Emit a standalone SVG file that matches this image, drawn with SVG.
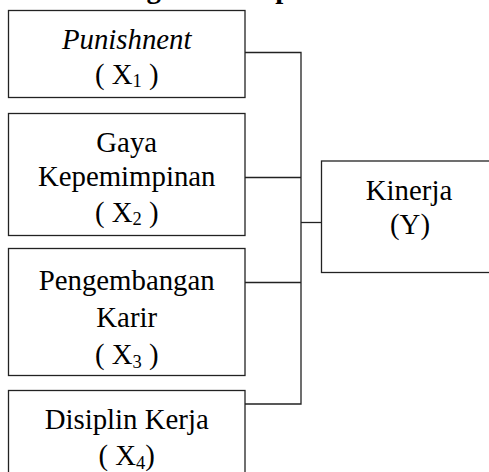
<svg xmlns="http://www.w3.org/2000/svg" width="489" height="472" viewBox="0 0 489 472">
<style>
.box{fill:#fff;stroke:#222;stroke-width:1.3}
.ln{fill:none;stroke:#222;stroke-width:1.3}
.t{font-family:'Liberation Serif','Times New Roman',serif;font-size:28.8px;fill:#000;text-anchor:middle}
.it{font-style:italic}
.sub{font-size:18.5px}
.h{font-family:'Liberation Serif','Times New Roman',serif;font-size:28.8px;font-weight:bold;fill:#000}
</style>
<rect width="489" height="472" fill="#fff"/>
<text class="h" x="68" y="-2.5">Kerangka Konseptual</text>
<g id="connectors">
<polyline class="ln" points="245,52.5 301,52.5 301,404 245,404"/>
<line class="ln" x1="245" y1="177.5" x2="301" y2="177.5"/>
<line class="ln" x1="245" y1="282.5" x2="301" y2="282.5"/>
<line class="ln" x1="301" y1="222.5" x2="321.5" y2="222.5"/>
</g>
<g id="x1">
<rect class="box" x="8.5" y="10.5" width="236.5" height="87"/>
<text class="t it" x="126.7" y="48.5">Punishnent</text>
<text class="t" x="126.7" y="83.5">( X<tspan class="sub" dy="3.5">1</tspan><tspan dy="-3.5"> )</tspan></text>
</g>
<g id="x2">
<rect class="box" x="8.5" y="113.5" width="236.5" height="122"/>
<text class="t" x="126.7" y="151.5">Gaya</text>
<text class="t" x="126.7" y="186">Kepemimpinan</text>
<text class="t" x="126.7" y="221.5">( X<tspan class="sub" dy="3.5">2</tspan><tspan dy="-3.5"> )</tspan></text>
</g>
<g id="x3">
<rect class="box" x="8.5" y="248.5" width="236.5" height="127"/>
<text class="t" x="126.7" y="289.5">Pengembangan</text>
<text class="t" x="126.7" y="327">Karir</text>
<text class="t" x="126.7" y="364">( X<tspan class="sub" dy="3.5">3</tspan><tspan dy="-3.5"> )</tspan></text>
</g>
<g id="x4">
<rect class="box" x="8.5" y="390.5" width="236.5" height="100"/>
<text class="t" x="126.7" y="428.5">Disiplin Kerja</text>
<text class="t" x="126.7" y="465">( X<tspan class="sub" dy="3.5">4</tspan><tspan dy="-3.5">)</tspan></text>
</g>
<g id="y">
<rect class="box" x="321.5" y="161" width="200" height="111.5"/>
<text class="t" x="409" y="199.5">Kinerja</text>
<text class="t" x="410" y="234">(Y)</text>
</g>
</svg>
